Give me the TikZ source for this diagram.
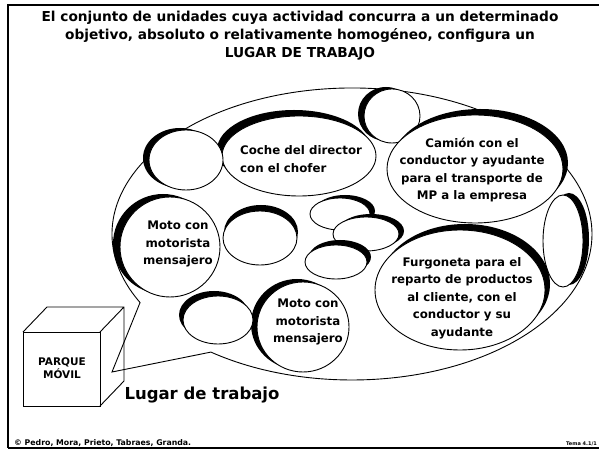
\documentclass[tikz,border=0pt]{standalone}
\usepackage{fontspec}
\setmainfont{DejaVu Sans}
\usetikzlibrary{shapes.geometric,shadows}

\begin{document}
\begin{tikzpicture}[x=1pt,y=1pt,
  unit/.style 2 args={ellipse,draw,fill=white,inner sep=0pt,line width=.9pt,
    drop shadow={shadow xshift=#1,shadow yshift=#2,opacity=1,fill=black}},
  txt/.style={font=\bfseries\fontsize{11.8}{17.5}\selectfont,align=center,inner sep=0pt}]
  \useasboundingbox (0,0) rectangle (599,452);
  \draw[line width=2pt] (599,447)--(8,447)--(8,4);
  \draw[line width=2.6pt] (8,4)--(599,4);
  \node[font=\bfseries\fontsize{13.7}{18}\selectfont,align=center] (titulo) at (300,416)
    {El conjunto de unidades cuya actividad concurra a un determinado\\
     objetivo, absoluto o relativamente homogéneo, configura un\\
     LUGAR DE TRABAJO};
  % parque movil
  \draw[line width=.9pt,fill=white] (23,46) rectangle (100,120);
  \draw[line width=.9pt] (23,120)--(47,145)--(124,145)--(124,71)--(100,46) (100,120)--(124,145);
  \node[font=\bfseries\fontsize{10.5}{13}\selectfont,align=center] (parque) at (62,84) {PARQUE\\MÓVIL};
  % bocadillo
  \coordinate (tip) at (112,80);
  \draw[line width=.9pt] (tip)--(210.9,99.9)
    arc[start angle=234,end angle=568,x radius=240,y radius=146]--cycle;
  \node[font=\bfseries\fontsize{16.5}{20}\selectfont] (lugar) at (202,57) {Lugar de trabajo};
  % unidades
  \node[unit={-6pt}{2pt},minimum width=56,minimum height=54] (c1) at (392,336) {};
  \node[unit={-5pt}{6pt},minimum width=154,minimum height=80] (coche) at (299,296) {};
  \node[unit={-6pt}{2pt},minimum width=74,minimum height=60] (c2) at (186,292) {};
  \node[unit={-7pt}{3pt},minimum width=100,minimum height=100] (motoA) at (170,205) {};
  \node[unit={1pt}{6pt},minimum width=74,minimum height=54] (c3) at (260,214) {};
  \node[unit={5pt}{3pt},minimum width=60,minimum height=32] (c4) at (340,238) {};
  \node[unit={5pt}{3pt},minimum width=66,minimum height=34] (c5) at (366,218) {};
  \node[unit={4pt}{5pt},minimum width=62,minimum height=34] (c6) at (336,190) {};
  \node[unit={5pt}{6pt},minimum width=176,minimum height=108] (camion) at (475,283) {};
  \node[unit={6pt}{2pt},minimum width=40,minimum height=92] (c7) at (563,211) {};
  \node[unit={5pt}{6pt},minimum width=170,minimum height=120] (furgoneta) at (460,162) {};
  \node[unit={-6pt}{3pt},minimum width=92,minimum height=90] (motoB) at (303,125) {};
  \node[unit={-4pt}{5pt},minimum width=70,minimum height=48] (c8) at (218,132) {};
  \node[txt,anchor=west,align=left] (coche-t) at (240,293) {Coche del director\\con el chofer};
  \node[txt] (camion-t) at (472,282) {Camión con el\\conductor y ayudante\\para el transporte de\\MP a la empresa};
  \node[txt] (furgoneta-t) at (462,154) {Furgoneta para el\\reparto de productos\\al cliente, con el\\conductor y su\\ayudante};
  \node[txt] (motoA-t) at (178,208) {Moto con\\motorista\\mensajero};
  \node[txt] (motoB-t) at (308,130) {Moto con\\motorista\\mensajero};
  \node[anchor=base west,font=\bfseries\fontsize{7.8}{9}\selectfont,inner sep=0pt] (autores) at (14,7)
    {© Pedro, Mora, Prieto, Tabraes, Granda.};
  \node[anchor=base east,font=\bfseries\fontsize{5}{6}\selectfont,inner sep=0pt] (tema) at (597,7) {Tema 4.1/1};
\end{tikzpicture}
\end{document}
